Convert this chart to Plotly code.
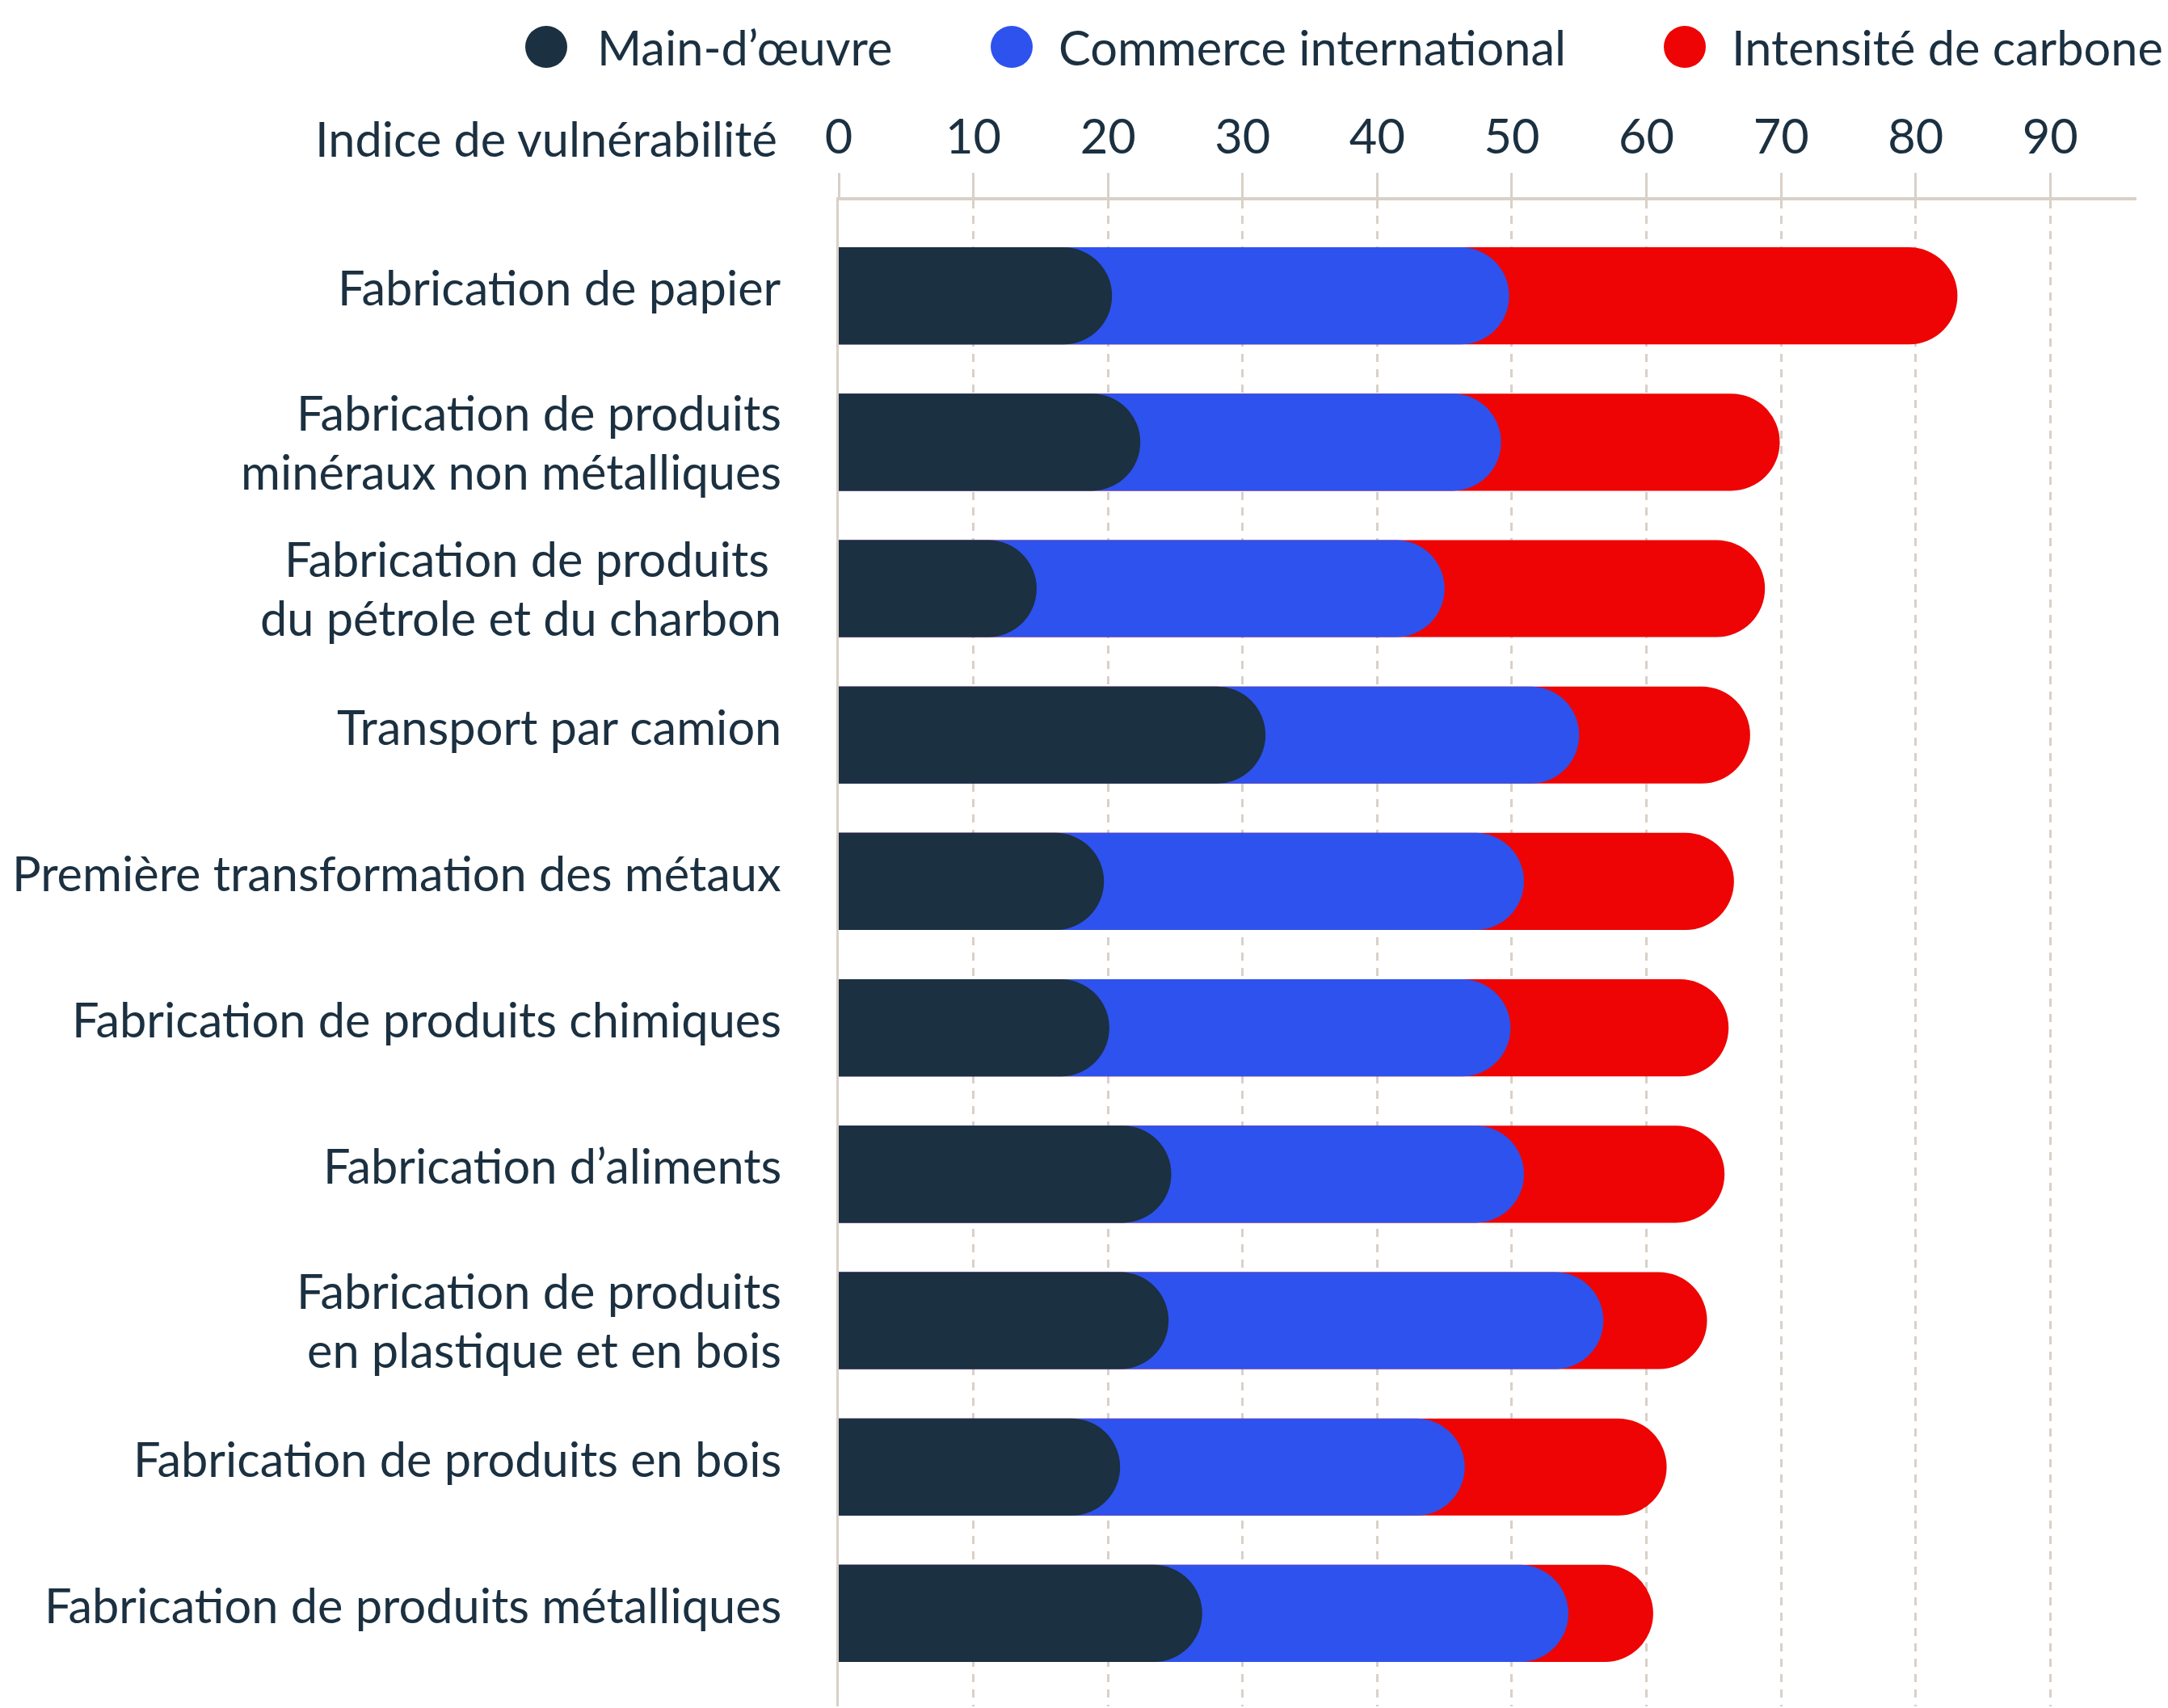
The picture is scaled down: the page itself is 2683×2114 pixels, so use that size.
import plotly.graph_objects as go

# Industries, top to bottom
categories = [
    "Fabrication de papier",
    "Fabrication de produits<br>minéraux non métalliques",
    "Fabrication de produits\u00a0<br>du pétrole et du charbon",
    "Transport par camion",
    "Première transformation des métaux",
    "Fabrication de produits chimiques",
    "Fabrication d’aliments",
    "Fabrication de produits<br>en plastique et en bois",
    "Fabrication de produits en bois",
    "Fabrication de produits métalliques",
]

# Components of the vulnerability index
main_oeuvre = [20.3, 22.4, 14.7, 31.7, 19.7, 20.1, 24.7, 24.5, 20.9, 27.0]
commerce = [29.5, 26.8, 30.3, 23.3, 31.2, 29.8, 26.2, 32.3, 25.6, 27.2]
carbone = [33.3, 20.7, 23.8, 12.7, 15.6, 16.2, 14.9, 7.7, 15.0, 6.3]

series_names = ["Main-d’œuvre", "Commerce international", "Intensité de carbone"]
x_ticks = [0, 10, 20, 30, 40, 50, 60, 70, 80, 90]

DARK = "#1B3040"
BLUE = "#2E52ED"
RED = "#EE0404"
GRID = "#D9D0C8"
FONT = "Lato"
FS = 59.5

# Cumulative ends: each segment is a rounded bar starting at zero,
# longest first, so the shorter ones sit on top. Each one lives on its
# own overlaid y axis so that every bar gets its own rounded tip.
end_dark = main_oeuvre
end_blue = [a + b for a, b in zip(main_oeuvre, commerce)]
end_red = [a + b + c for a, b, c in zip(main_oeuvre, commerce, carbone)]

fig = go.Figure()
for ends, color, name, yax in [
    (end_red, RED, series_names[2], "y"),
    (end_blue, BLUE, series_names[1], "y2"),
    (end_dark, DARK, series_names[0], "y3"),
]:
    fig.add_trace(go.Bar(
        x=ends, y=categories, orientation="h", name=name, yaxis=yax,
        marker=dict(color=color, line=dict(width=0), cornerradius="50%"),
        showlegend=False, hoverinfo="x+name",
    ))

W, H = 2683, 2114
L, R, T, B = 1038, 39, 248, 2
pw, ph = W - L - R, H - T - B

# Category labels, right-aligned next to the bars, one annotation per line
for cat in categories:
    lines = cat.split("<br>")
    shifts = [11] if len(lines) == 1 else [37.75, -35.25]
    for line, dy in zip(lines, shifts):
        fig.add_annotation(
            text=line, xref="paper", yref="y", x=0, y=cat,
            xanchor="right", yanchor="middle", xshift=-70, yshift=dy,
            showarrow=False, borderpad=0,
            font=dict(family=FONT, size=FS, color=DARK),
        )

# Legend drawn with circle shapes and text
legend_items = [
    (series_names[0], DARK, 676, 737),
    (series_names[1], BLUE, 1252, 1308),
    (series_names[2], RED, 2085, 2141),
]
legend_y = 1 + (T - 58) / ph
for name, color, cx, tx in legend_items:
    fig.add_shape(
        type="circle", xref="paper", yref="paper",
        xsizemode="pixel", ysizemode="pixel",
        xanchor=(cx - L) / pw, yanchor=legend_y,
        x0=-26, x1=26, y0=-26, y1=26,
        fillcolor=color, line=dict(width=0),
    )
    fig.add_annotation(
        text=name, xref="paper", yref="paper",
        x=(tx - L) / pw, y=legend_y,
        xanchor="left", yanchor="middle", showarrow=False,
        font=dict(family=FONT, size=FS, color=DARK),
    )

# Axis title to the left of the tick labels
fig.add_annotation(
    text="Indice de vulnérabilité", xref="paper", yref="paper",
    x=(964 - L) / pw, y=1 + (T - 171) / ph,
    xanchor="right", yanchor="middle", showarrow=False,
    font=dict(family=FONT, size=FS, color=DARK),
)

y_range = [9.635, -0.652]
fig.update_layout(
    width=W, height=H,
    margin=dict(l=L, r=R, t=T, b=B),
    paper_bgcolor="white", plot_bgcolor="white",
    barmode="overlay", bargap=0.337,
    font=dict(family=FONT, size=FS, color=DARK),
    xaxis=dict(
        side="top", range=[0, 96.4], tickvals=x_ticks,
        showgrid=True, gridcolor=GRID, gridwidth=3, griddash="10px,9px",
        showline=True, linecolor=GRID, linewidth=4,
        ticks="outside", ticklen=30, tickwidth=3, tickcolor=GRID,
        ticklabelstandoff=0, zeroline=False,
        tickfont=dict(family=FONT, size=FS, color=DARK),
    ),
    yaxis=dict(
        range=y_range, showgrid=False, zeroline=False,
        showline=True, linecolor=GRID, linewidth=3,
        ticks="", showticklabels=False,
    ),
    yaxis2=dict(range=y_range, overlaying="y", visible=False),
    yaxis3=dict(range=y_range, overlaying="y", visible=False),
)

fig.write_html("out.html")
